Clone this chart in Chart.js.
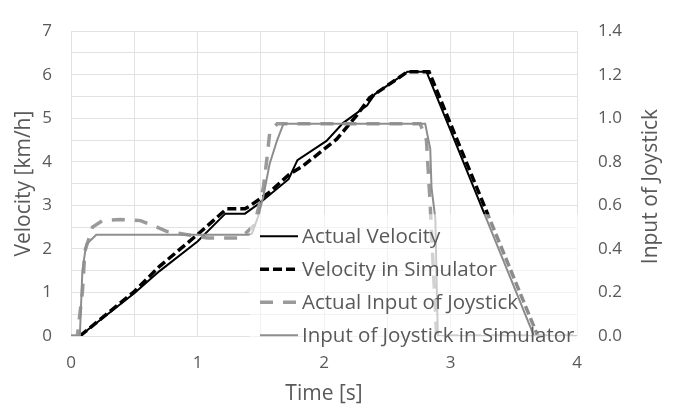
<!DOCTYPE html>
<html>
<head>
<meta charset="utf-8">
<script src="https://cdn.jsdelivr.net/npm/chart.js@4/dist/chart.umd.min.js"></script>
<style>
  html, body { margin: 0; padding: 0; background: #ffffff; }
  #wrap { width: 678px; height: 412px; }
</style>
</head>
<body>
<div id="wrap"><canvas id="c" width="678" height="412"></canvas></div>
<script>
// ---- Data ----
const seriesLabels = ["Actual Velocity", "Velocity in Simulator", "Actual Input of Joystick", "Input of Joystick in Simulator"];

// Actual Velocity [km/h]
const tActualVel = [0.07, 0.5, 0.7, 1.0, 1.22, 1.375, 1.49, 1.72, 1.79, 2.02, 2.15, 2.34, 2.4, 2.66, 2.81, 3.0, 3.66];
const actualVel  = [0.0, 0.98, 1.49, 2.17, 2.81, 2.81, 3.05, 3.6, 4.04, 4.48, 4.89, 5.29, 5.55, 6.07, 6.07, 4.72, 0.0];

// Velocity in Simulator [km/h]
const tSimVel = [0.07, 0.5, 0.7, 1.0, 1.23, 1.375, 1.41, 1.57, 1.72, 1.83, 1.94, 2.1, 2.26, 2.36, 2.66, 2.83, 3.06, 3.69];
const simVel  = [0.0, 1.02, 1.6, 2.33, 2.92, 2.92, 2.98, 3.3, 3.7, 3.9, 4.15, 4.52, 5.07, 5.47, 6.07, 6.07, 4.45, 0.0];

// Actual Input of Joystick [-]
const tActualJoy = [0.0, 0.05, 0.09, 0.11, 0.17, 0.25, 0.39, 0.55, 0.68, 0.76, 0.92, 1.08, 1.34, 1.45, 1.52, 1.55, 1.57, 1.63, 2.76, 2.81, 2.84, 2.85, 2.88, 2.89, 4.0];
const actualJoy  = [0.0, 0.0, 0.2, 0.39, 0.5, 0.53, 0.535, 0.53, 0.5, 0.48, 0.465, 0.45, 0.45, 0.51, 0.68, 0.82, 0.93, 0.975, 0.975, 0.9, 0.6, 0.47, 0.13, 0.0, 0.0];

// Input of Joystick in Simulator [-]
const tSimJoy = [0.0, 0.07, 0.09, 0.12, 0.2, 1.4, 1.43, 1.48, 1.52, 1.57, 1.63, 1.68, 2.8, 2.84, 2.85, 2.88, 2.89, 2.9, 4.0];
const simJoy  = [0.0, 0.0, 0.3, 0.42, 0.465, 0.465, 0.47, 0.55, 0.64, 0.79, 0.9, 0.975, 0.975, 0.86, 0.68, 0.54, 0.26, 0.0, 0.0];

// Axis ticks
const xTickLabels = [0, 1, 2, 3, 4];
const yLeftTickLabels = [0, 1, 2, 3, 4, 5, 6, 7];
const yRightTickLabels = [0.0, 0.2, 0.4, 0.6, 0.8, 1.0, 1.2, 1.4];

// ---- Helpers ----
const pts = (xs, ys) => xs.map((x, i) => ({ x: x, y: ys[i] }));
const FONT = "'Open Sans', 'DejaVu Sans', sans-serif";
const TXT = "#595959";
const GRID = "#e2e2e2";

// Custom legend drawn inside the plot area with a translucent white box
const innerLegend = {
  id: 'innerLegend',
  afterDatasetsDraw(chart) {
    const { ctx, chartArea } = chart;
    const boxL = chartArea.left + 179;
    const boxT = chartArea.top + 183;
    const boxR = chartArea.right + 3;
    const boxB = chartArea.bottom + 2;
    ctx.save();
    ctx.fillStyle = 'rgba(255,255,255,0.55)';
    ctx.fillRect(boxL, boxT, boxR - boxL, boxB - boxT);
    const rowH = 33;
    const firstY = boxT + 22;
    chart.data.datasets.forEach((ds, i) => {
      const y = firstY + i * rowH;
      ctx.beginPath();
      ctx.strokeStyle = ds.borderColor;
      ctx.lineWidth = ds.borderWidth;
      ctx.setLineDash(ds.borderDash || []);
      ctx.lineCap = 'butt';
      ctx.moveTo(boxL + 10, y);
      ctx.lineTo(boxL + 48, y);
      ctx.stroke();
      ctx.setLineDash([]);
      ctx.fillStyle = TXT;
      ctx.font = "20.5px " + FONT;
      ctx.textAlign = 'left';
      ctx.textBaseline = 'middle';
      ctx.fillText(ds.label, boxL + 52, y + 1);
    });
    ctx.restore();
  }
};

// Right axis title reading bottom-to-top
const rightTitle = {
  id: 'rightTitle',
  afterDraw(chart) {
    const { ctx, chartArea } = chart;
    const sc = chart.scales.y2;
    ctx.save();
    ctx.translate(sc.right - 27, (chartArea.top + chartArea.bottom) / 2 + 3);
    ctx.rotate(-Math.PI / 2);
    ctx.fillStyle = TXT;
    ctx.font = "21px " + FONT;
    ctx.textAlign = 'center';
    ctx.textBaseline = 'middle';
    ctx.fillText("Input of Joystick", 0, 0);
    ctx.restore();
  }
};

const intLabel = (list) => function (value) {
  return list.indexOf(value) >= 0 ? String(value) : '';
};

new Chart(document.getElementById('c'), {
  type: 'line',
  data: {
    datasets: [
      {
        label: seriesLabels[0], data: pts(tActualVel, actualVel), yAxisID: 'y',
        borderColor: '#000000', borderWidth: 2, pointRadius: 0, fill: false, order: 4
      },
      {
        label: seriesLabels[1], data: pts(tSimVel, simVel), yAxisID: 'y',
        borderColor: '#000000', borderWidth: 3.5, borderDash: [9, 4], pointRadius: 0, fill: false, order: 3
      },
      {
        label: seriesLabels[2], data: pts(tActualJoy, actualJoy), yAxisID: 'y2',
        borderColor: '#9a9a9a', borderWidth: 3.5, borderDash: [13, 10], pointRadius: 0, fill: false, order: 2
      },
      {
        label: seriesLabels[3], data: pts(tSimJoy, simJoy), yAxisID: 'y2',
        borderColor: '#8e8e8e', borderWidth: 2, pointRadius: 0, fill: false, order: 1
      }
    ]
  },
  options: {
    responsive: false,
    animation: false,
    devicePixelRatio: 1,
    layout: { padding: { top: 17, left: 0, right: 0, bottom: 0 } },
    plugins: { legend: { display: false }, tooltip: { enabled: false } },
    elements: { line: { tension: 0 } },
    scales: {
      x: {
        type: 'linear', min: 0, max: 4,
        border: { display: false },
        grid: { color: GRID, lineWidth: 1, drawTicks: false },
        ticks: {
          stepSize: 0.5, autoSkip: false, padding: 17, color: TXT,
          font: { family: FONT, size: 17 },
          callback: intLabel(xTickLabels)
        },
        title: { display: true, text: 'Time [s]', color: TXT, font: { family: FONT, size: 21 }, padding: { top: 0, bottom: 5 } },
        afterFit(s) { s.height = 76; }
      },
      y: {
        type: 'linear', position: 'left', min: 0, max: 7,
        border: { display: false },
        grid: { color: GRID, lineWidth: 1, drawTicks: false },
        ticks: {
          stepSize: 0.5, autoSkip: false, padding: 19, color: TXT,
          font: { family: FONT, size: 17 },
          callback: intLabel(yLeftTickLabels)
        },
        title: { display: true, text: 'Velocity [km/h]', color: TXT, font: { family: FONT, size: 21 }, padding: { top: 11, bottom: 0 } },
        afterFit(s) { s.width = 71; }
      },
      y2: {
        type: 'linear', position: 'right', min: 0, max: 1.4,
        border: { display: false },
        grid: { display: false, drawTicks: false },
        ticks: {
          stepSize: 0.2, autoSkip: false, padding: 21, color: TXT,
          font: { family: FONT, size: 17 },
          callback: function (v) {
            const r = Math.round(v * 10) / 10;
            return yRightTickLabels.indexOf(r) >= 0 ? r.toFixed(1) : '';
          }
        },
        title: { display: false },
        afterFit(s) { s.width = 101; }
      }
    }
  },
  plugins: [innerLegend, rightTitle]
});
</script>
</body>
</html>
